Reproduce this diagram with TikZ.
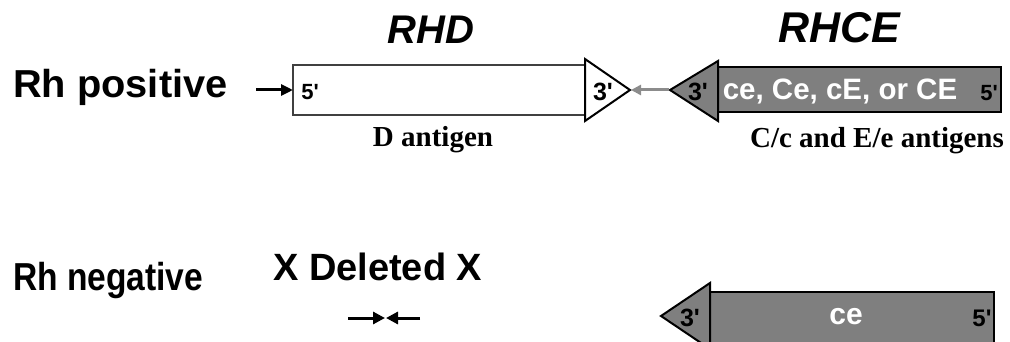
\documentclass[tikz,border=0pt]{standalone}
\usepackage{fontspec}
\setmainfont{Liberation Serif}
\setsansfont{Liberation Sans}
\usetikzlibrary{arrows.meta}
\definecolor{genegray}{HTML}{7F7F7F}
\definecolor{linkgray}{HTML}{8C8C8C}
\definecolor{boxline}{HTML}{404040}
\newcommand{\pr}{\textquotesingle}
\tikzset{
  bigsans/.style={inner sep=0pt, font=\fontsize{39}{39}\selectfont\sffamily\bfseries},
  genename/.style={inner sep=0pt, font=\fontsize{#1}{#1}\selectfont\sffamily\bfseries\itshape},
  serifcap/.style={inner sep=0pt, font=\fontsize{#1}{#1}\selectfont\rmfamily\bfseries},
  endlabel/.style={inner sep=0pt, font=\fontsize{#1}{#1}\selectfont\sffamily\bfseries},
  whitelabel/.style={inner sep=0pt, text=white, font=\fontsize{#1}{#1}\selectfont\sffamily\bfseries},
  blackarrow/.style={line width=3pt, -{Triangle[length=12pt,width=11pt]}},
  grayarrow/.style={draw=linkgray, line width=3pt, -{Triangle[length=10pt,width=10pt]}},
  whitegene/.style={draw=boxline, line width=1.5pt, fill=white},
  graygene/.style={draw=black, line width=1.5pt, fill=genegray},
  graytri/.style={draw=black, line width=2pt, fill=genegray, line join=miter},
  whitetri/.style={draw=black, line width=2pt, fill=white, line join=miter},
}
\begin{document}
\begin{tikzpicture}[x=1pt,y=-1pt]
\clip (0,0) rectangle (1010,342);

% titles
\node[genename=40, anchor=base] (rhdtitle) at (431,44) {RHD};
\node[genename=43, anchor=base] (rhcetitle) at (839,43) {RHCE};

% row labels
\node[bigsans, anchor=base west, xscale=1.02] (pos) at (13,98) {Rh positive};
\node[bigsans, anchor=base west, xscale=0.86] (neg) at (13,290) {Rh negative};

% RHD gene (positive row)
\draw[whitegene] (293,65) rectangle (585,115);
\coordinate (rhdw) at (293,90);
\draw[whitetri] (585,59) -- (630,90) -- (585,121) -- cycle;
\coordinate (rhdtip) at (631,90);
\node[endlabel=22] (rhd5) at (310,92) {5\pr};
\node[endlabel=25] (rhd3) at (603,92) {3\pr};
\node[serifcap=29, anchor=base] (dant) at (433,147) {D antigen};

% RHCE gene (positive row)
\draw[graygene] (718,67) rectangle (1001,112);
\draw[graytri] (718,61) -- (670,90) -- (718,121) -- cycle;
\coordinate (rhcetip) at (669,90);
\node[endlabel=25] (rhce3) at (698,92) {3\pr};
\node[whitelabel=29.5] (alleles) at (840,91) {ce, Ce, cE, or CE};
\node[endlabel=22] (rhce5) at (989,93) {5\pr};
\node[serifcap=29, anchor=base] (ceant) at (877,148) {C/c and E/e antigens};

% connectors (positive row)
\coordinate (posstart) at (256,90);
\draw[blackarrow] (posstart) -- (rhdw);
\draw[grayarrow] (rhcetip) -- (rhdtip);

% negative row
\node[inner sep=0pt, font=\fontsize{38}{38}\selectfont\sffamily\bfseries, anchor=base west] (deleted) at (273,280) {X Deleted X};
\coordinate (dla) at (348,318);
\coordinate (dlb) at (385,318);
\coordinate (dra) at (420,318);
\coordinate (drb) at (386,318);
\draw[blackarrow, -{Triangle[length=12pt,width=12pt]}] (dla) -- (dlb);
\draw[blackarrow, -{Triangle[length=12pt,width=12pt]}] (dra) -- (drb);

\draw[graygene] (710,292) rectangle (994,345);
\draw[graytri] (710,283) -- (661,316) -- (710,349) -- cycle;
\node[endlabel=25] (neg3) at (690,318) {3\pr};
\node[whitelabel=30] (cetext) at (846,317) {ce};
\node[endlabel=24] (neg5) at (982,318) {5\pr};
\end{tikzpicture}
\end{document}
